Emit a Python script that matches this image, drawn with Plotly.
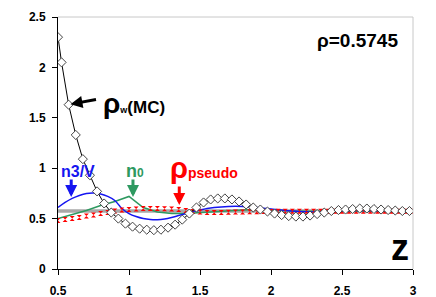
import plotly.graph_objects as go

# --- data ---
mc_x = [0.5, 0.525] + [round(0.575 + 0.05 * i, 3) for i in range(49)]
mc_y = [2.30, 2.05, 1.63, 1.33, 1.09, 0.93, 0.77, 0.65, 0.56, 0.50, 0.45, 0.42, 0.40, 0.39,
        0.385, 0.39, 0.41, 0.44, 0.49, 0.55, 0.61, 0.66, 0.69, 0.70, 0.70, 0.69, 0.67, 0.64,
        0.61, 0.59, 0.57, 0.55, 0.535, 0.525, 0.52, 0.52, 0.53, 0.545, 0.56, 0.575, 0.585,
        0.59, 0.595, 0.60, 0.60, 0.595, 0.59, 0.585, 0.58, 0.575, 0.575]

n3_x = [0.5, 0.55, 0.6, 0.65, 0.7, 0.75, 0.8, 0.85, 0.9, 0.95, 1.0, 1.05, 1.1, 1.15, 1.2,
        1.25, 1.3, 1.35, 1.4, 1.45, 1.5, 1.55, 1.6, 1.7, 1.8, 1.9, 2.0, 2.1, 2.2, 2.3, 2.4,
        2.5, 2.6, 2.8, 3.0]
n3_y = [0.61, 0.66, 0.70, 0.73, 0.75, 0.755, 0.745, 0.72, 0.68, 0.60, 0.55, 0.52, 0.50,
        0.49, 0.488, 0.495, 0.51, 0.53, 0.55, 0.57, 0.585, 0.60, 0.61, 0.62, 0.62, 0.61,
        0.595, 0.58, 0.57, 0.565, 0.57, 0.575, 0.58, 0.578, 0.575]

n0_x = [0.5, 0.6, 0.7, 0.8, 0.9, 1.0, 1.1, 1.2, 1.3, 1.4, 1.5, 1.6, 1.7, 1.8, 1.9, 2.0,
        2.1, 2.2, 2.4, 2.6, 2.8, 3.0]
n0_y = [0.50, 0.54, 0.58, 0.63, 0.67, 0.72, 0.61, 0.565, 0.55, 0.55, 0.56, 0.57, 0.575,
        0.585, 0.59, 0.585, 0.578, 0.574, 0.574, 0.575, 0.575, 0.575]

ps_x = [round(0.5 + 0.05 * i, 2) for i in range(51)]
ps_y = [0.48, 0.49, 0.50, 0.51, 0.525, 0.535, 0.55, 0.56, 0.575, 0.585, 0.59, 0.595, 0.60,
        0.60, 0.60, 0.598, 0.595, 0.59, 0.58, 0.57, 0.565, 0.56, 0.56, 0.56, 0.563, 0.565,
        0.566, 0.568, 0.569, 0.57, 0.571, 0.572, 0.573, 0.574, 0.574, 0.574, 0.574, 0.574,
        0.574, 0.574, 0.574, 0.574, 0.574, 0.574, 0.574, 0.574, 0.574, 0.574, 0.574, 0.574,
        0.574]

bulk_rho = 0.5745
bulk_x = [0.5, 3.0]
bulk_y = [bulk_rho, bulk_rho]

x_ticks = [0.5, 1, 1.5, 2, 2.5, 3]
y_ticks = [0, 0.5, 1, 1.5, 2, 2.5]

FONT = "Liberation Sans, Arial, sans-serif"
GREEN = "#2E9960"
BLUE = "#1515F0"
RED = "#FF0000"

fig = go.Figure()
fig.add_trace(go.Scatter(x=bulk_x, y=bulk_y, mode="lines",
                         line=dict(color="#A8A8A8", width=3.5), hoverinfo="skip"))
fig.add_trace(go.Scatter(x=n0_x, y=n0_y, mode="lines",
                         line=dict(color=GREEN, width=1.5)))
fig.add_trace(go.Scatter(x=n3_x, y=n3_y, mode="lines", line_shape="spline",
                         line=dict(color=BLUE, width=1.5)))
fig.add_trace(go.Scatter(x=ps_x, y=ps_y, mode="markers",
                         marker=dict(symbol="hourglass", size=5, color=RED)))
fig.add_trace(go.Scatter(x=mc_x, y=mc_y, mode="lines+markers",
                         line=dict(color="#000000", width=1),
                         marker=dict(symbol="diamond", size=7, color="white",
                                     line=dict(color="#444444", width=1))))

# plot-area border (top and right)
fig.add_shape(type="line", xref="paper", yref="paper", x0=0, x1=1, y0=1, y1=1,
              line=dict(color="#C8C8C8", width=1))
fig.add_shape(type="line", xref="paper", yref="paper", x0=1, x1=1, y0=0, y1=1,
              line=dict(color="#C8C8C8", width=1))

ann = []
ann.append(dict(x=0.962, y=0.905, xref="paper", yref="paper", text="<b>ρ=0.5745</b>",
                showarrow=False, xanchor="right", yanchor="middle",
                font=dict(size=19, color="black", family=FONT)))
# rho_w(MC) label and arrow
ann.append(dict(x=0.12, y=0.655, xref="paper", yref="paper",
                text="<b><span style='font-size:28px'>ρ</span><span style='font-size:9px'>w</span>(MC)</b>",
                showarrow=False, xanchor="left", yanchor="middle",
                font=dict(size=17, color="black", family=FONT)))
ann.append(dict(x=0.588, y=1.635, xref="x", yref="y", text="", showarrow=True,
                ax=27, ay=-5, arrowhead=2, arrowsize=0.8, arrowwidth=3, arrowcolor="black"))
# n3/V
ann.append(dict(x=0.055, y=0.385, xref="paper", yref="paper", text="<b>n3/V</b>",
                showarrow=False, xanchor="center", yanchor="middle",
                font=dict(size=16, color=BLUE, family=FONT)))
ann.append(dict(x=0.593, y=0.714, xref="x", yref="y", text="", showarrow=True,
                ax=0, ay=-19, arrowhead=2, arrowsize=0.8, arrowwidth=3, arrowcolor=BLUE))
# n0
ann.append(dict(x=0.216, y=0.39, xref="paper", yref="paper",
                text="<b>n<span style='font-size:12px'>0</span></b>",
                showarrow=False, xanchor="center", yanchor="middle",
                font=dict(size=18, color=GREEN, family=FONT)))
ann.append(dict(x=1.028, y=0.714, xref="x", yref="y", text="", showarrow=True,
                ax=0, ay=-19, arrowhead=2, arrowsize=0.8, arrowwidth=3, arrowcolor=GREEN))
# rho pseudo
ann.append(dict(x=0.31, y=0.4, xref="paper", yref="paper",
                text="<b><span style='font-size:29px'>ρ</span>pseudo</b>",
                showarrow=False, xanchor="left", yanchor="middle",
                font=dict(size=14, color=RED, family=FONT)))
ann.append(dict(x=1.354, y=0.634, xref="x", yref="y", text="", showarrow=True,
                ax=0, ay=-20, arrowhead=2, arrowsize=0.8, arrowwidth=3, arrowcolor=RED))
# z
ann.append(dict(x=0.964, y=0.085, xref="paper", yref="paper", text="<b>z</b>",
                showarrow=False, xanchor="center", yanchor="middle",
                font=dict(size=36, color="black", family=FONT)))

fig.update_layout(
    template="none",
    width=436, height=297,
    margin=dict(l=58, r=23, t=17, b=28, pad=0),
    paper_bgcolor="white", plot_bgcolor="white",
    showlegend=False,
    annotations=ann,
    font=dict(family=FONT, color="black"),
)
fig.update_xaxes(range=[0.5, 3], tickvals=x_ticks, ticktext=[f"<b>{v:g}</b>" for v in x_ticks],
                 showgrid=False, zeroline=False, showline=True, linecolor="black", linewidth=1,
                 ticks="outside", ticklen=5, tickcolor="black", tickfont=dict(size=12),
                 ticklabelstandoff=6, automargin=False)
fig.update_yaxes(range=[0, 2.5], tickvals=y_ticks, ticktext=[f"<b>{v:g}</b>" for v in y_ticks],
                 showgrid=False, zeroline=False, showline=True, linecolor="black", linewidth=1,
                 ticks="outside", ticklen=5, tickcolor="black", tickfont=dict(size=12),
                 ticklabelstandoff=4, automargin=False)

fig.write_html("out.html", config={"displayModeBar": False},
               post_script="document.body.style.margin='0';")
